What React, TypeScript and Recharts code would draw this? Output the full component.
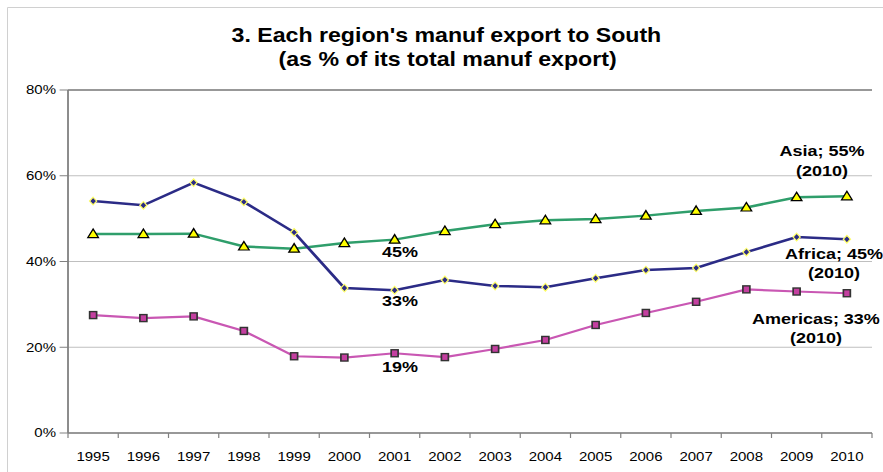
import { LineChart, Line, XAxis, YAxis, CartesianGrid, LabelList, ReferenceLine } from 'recharts';

const years = ['1995', '1996', '1997', '1998', '1999', '2000', '2001', '2002', '2003', '2004', '2005', '2006', '2007', '2008', '2009', '2010'];
const asia = [46.4, 46.4, 46.5, 43.5, 43.0, 44.3, 45.1, 47.1, 48.7, 49.6, 49.9, 50.7, 51.8, 52.6, 55.0, 55.2];
const africa = [54.1, 53.1, 58.4, 53.9, 46.8, 33.8, 33.3, 35.7, 34.3, 34.0, 36.1, 38.0, 38.5, 42.2, 45.7, 45.2];
const americas = [27.5, 26.8, 27.2, 23.8, 17.9, 17.6, 18.6, 17.7, 19.6, 21.7, 25.2, 28.0, 30.6, 33.5, 33.0, 32.6];
const seriesNames = ['Asia', 'Africa', 'Americas'];
const yTicks = [0, 20, 40, 60, 80];
const titleLines = ["3. Each region's manuf export to South", '(as % of its total manuf export)'];

const data = years.map((year, i) => ({ year, asia: asia[i], africa: africa[i], americas: americas[i] }));

// the original picture is stretched sideways, so the whole chart is drawn narrower and scaled
const SX = 1.2;
const W = 736;
const H = 472;
const M = { top: 90, right: 9.33, bottom: 9, left: 6.67 };
const Y_AXIS_W = 50;
const X_AXIS_H = 30;
const PLOT_W = W - M.left - M.right - Y_AXIS_W;
const BW = PLOT_W / years.length;
const FONT = "'Liberation Sans', Arial, Helvetica, sans-serif";

const NAVY = '#2b2b86';
const GREEN = '#2f9e6b';
const MAGENTA = '#c957b3';
const FRAME = '#808080';

const MID = years.indexOf('2001');
const LAST = years.length - 1;

const XTick = (props: any) => {
  const { x, y, payload, index } = props;
  return (
    <g>
      <line x1={x - BW / 2} x2={x - BW / 2} y1={y} y2={y + 5} stroke={FRAME} />
      {index === LAST && <line x1={x + BW / 2} x2={x + BW / 2} y1={y} y2={y + 5} stroke={FRAME} />}
      <text x={x} y={y + 28} textAnchor="middle" fontSize={12.5} fontFamily={FONT} fill="#000">
        {payload.value}
      </text>
    </g>
  );
};

const triangleDot = (p: any) => (
  <path
    key={`t-${p.index}`}
    d={`M${p.cx},${p.cy - 5} L${p.cx + 4.4},${p.cy + 3.5} L${p.cx - 4.4},${p.cy + 3.5} Z`}
    fill="#ffff00"
    stroke="#000"
    strokeWidth={1.2}
  />
);

const diamondDot = (p: any) => (
  <path
    key={`d-${p.index}`}
    d={`M${p.cx},${p.cy - 3.8} L${p.cx + 3},${p.cy} L${p.cx},${p.cy + 3.8} L${p.cx - 3},${p.cy} Z`}
    fill={NAVY}
    stroke="#ffff66"
    strokeWidth={1.1}
  />
);

const squareDot = (p: any) => (
  <rect
    key={`s-${p.index}`}
    x={p.cx - 2.9}
    y={p.cy - 3.5}
    width={5.8}
    height={7}
    fill="#c43fa0"
    stroke="#333"
    strokeWidth={1.4}
  />
);

// where the 2001 label and the 2010 name label sit relative to the point
const labelSpots: Record<string, { mid: number; dx: number; end: [number, number] }> = {
  Asia: { mid: 17.4, dx: -20.8, end: [-40.6, -20.6] },
  Africa: { mid: 16, dx: -10.8, end: [19.4, 38.4] },
  Americas: { mid: 19, dx: -25.8, end: [30.4, 49.4] },
};

const makeLabel = (name: string) => (props: any) => {
  const { x, y, value, index } = props;
  const spot = labelSpots[name];
  const style = { fontSize: 15, fontWeight: 700, fontFamily: FONT, fill: '#000' };
  const pct = `${Math.round(Number(value))}%`;
  if (index === MID) {
    return (
      <text key={`m-${name}`} x={x + 4.5} y={y + spot.mid} textAnchor="middle" {...style}>
        {pct}
      </text>
    );
  }
  if (index === LAST) {
    return (
      <g key={`e-${name}`}>
        <text x={x + spot.dx} y={y + spot.end[0]} textAnchor="middle" {...style}>
          {`${name}; ${pct}`}
        </text>
        <text x={x + spot.dx} y={y + spot.end[1]} textAnchor="middle" {...style}>
          ({years[LAST]})
        </text>
      </g>
    );
  }
  return null;
};

export default function App() {
  return (
    <div style={{ position: 'fixed', left: 0, top: 0, width: 883, height: 472, overflow: 'hidden', background: '#fff' }}>
      {/* outer chart frame */}
      <svg width={883} height={472} style={{ position: 'absolute', left: 0, top: 0 }}>
        <path d="M7.5,472 L7.5,7.5 L883,7.5" fill="none" stroke="#d0d0d0" strokeWidth={1} />
      </svg>

      <div style={{ position: 'absolute', left: 0, top: 0, width: W, height: H, transform: `scaleX(${SX})`, transformOrigin: '0 0' }}>
        <svg width={W} height={80} style={{ position: 'absolute', left: 0, top: 0 }}>
          <text x={372} y={42} textAnchor="middle" fontSize={19.3} fontWeight={700} fontFamily={FONT} fill="#000">
            {titleLines[0]}
          </text>
          <text x={373} y={66} textAnchor="middle" fontSize={19.3} fontWeight={700} fontFamily={FONT} fill="#000">
            {titleLines[1]}
          </text>
        </svg>

        <LineChart width={W} height={H} data={data} margin={M}>
          <CartesianGrid vertical={false} stroke="#bfbfbf" />
          <XAxis
            dataKey="year"
            scale="point"
            padding={{ left: BW / 2, right: BW / 2 }}
            interval={0}
            height={X_AXIS_H}
            tickSize={0}
            tickMargin={0}
            tickLine={false}
            axisLine={{ stroke: FRAME, strokeWidth: 1.5 }}
            tick={<XTick />}
          />
          <YAxis
            domain={[0, 80]}
            ticks={yTicks}
            interval={0}
            width={Y_AXIS_W}
            tickSize={7}
            tickMargin={3}
            tickFormatter={(v: number) => `${v}%`}
            axisLine={{ stroke: FRAME, strokeWidth: 1.5 }}
            tickLine={{ stroke: FRAME }}
            tick={{ fill: '#000', fontSize: 12.5, fontFamily: FONT }}
          />
          {/* right edge of the plot frame; same 0-80 scale as the left axis */}
          <YAxis
            yAxisId="r"
            orientation="right"
            domain={[0, 80]}
            ticks={yTicks}
            width={0}
            tick={false}
            tickLine={false}
            axisLine={{ stroke: FRAME, strokeWidth: 1.5 }}
          />
          <ReferenceLine y={80} stroke={FRAME} strokeWidth={1.5} />
          <Line yAxisId="r" dataKey="americas" stroke={MAGENTA} strokeWidth={2.2} dot={squareDot} activeDot={false} isAnimationActive={false}>
            <LabelList dataKey="americas" content={makeLabel(seriesNames[2])} />
          </Line>
          <Line dataKey="asia" stroke={GREEN} strokeWidth={2.5} dot={triangleDot} activeDot={false} isAnimationActive={false}>
            <LabelList dataKey="asia" content={makeLabel(seriesNames[0])} />
          </Line>
          <Line dataKey="africa" stroke={NAVY} strokeWidth={2.5} dot={diamondDot} activeDot={false} isAnimationActive={false}>
            <LabelList dataKey="africa" content={makeLabel(seriesNames[1])} />
          </Line>
        </LineChart>
      </div>
    </div>
  );
}
